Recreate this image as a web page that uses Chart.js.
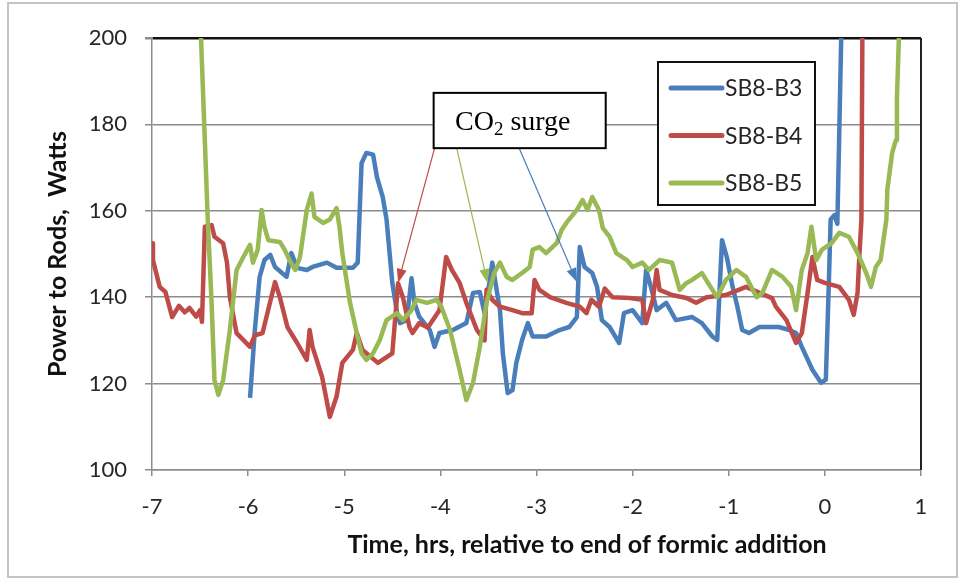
<!DOCTYPE html>
<html>
<head>
<meta charset="utf-8">
<script src="https://cdn.jsdelivr.net/npm/chart.js@4.4.0/dist/chart.umd.min.js"></script>
<style>
  html, body { margin: 0; padding: 0; background: #fff; }
</style>
</head>
<body>
<canvas id="myChart" width="961" height="579"></canvas>
<script>
const ctx = document.getElementById('myChart');

// time in hrs relative to end of formic addition, power in watts
const timeB3 = [-5.98, -5.93, -5.88, -5.83, -5.77, -5.72, -5.60, -5.55, -5.49, -5.39, -5.33, -5.18, -5.08, -4.91, -4.86, -4.82, -4.77, -4.70, -4.66, -4.60,
    -4.56, -4.50, -4.45, -4.42, -4.35, -4.30, -4.27, -4.22, -4.11, -4.06, -4.01, -3.87, -3.73, -3.66, -3.59, -3.54, -3.49, -3.46, -3.42, -3.38,
    -3.35, -3.30, -3.25, -3.21, -3.15, -3.09, -3.04, -2.90, -2.76, -2.66, -2.58, -2.55, -2.50, -2.42, -2.37, -2.32, -2.24, -2.14, -2.09, -2.00,
    -1.90, -1.86, -1.81, -1.75, -1.65, -1.55, -1.38, -1.28, -1.17, -1.12, -1.07, -1.02, -0.96, -0.91, -0.86, -0.79, -0.68, -0.48, -0.37, -0.30,
    -0.24, -0.13, -0.04, 0.01, 0.04, 0.06, 0.10, 0.13, 0.17];
const powerB3 = [116.7, 132.4, 144.7, 148.6, 149.8, 147, 144.7, 150.2, 146.8, 146.3, 147, 148, 146.8, 146.8, 148, 171, 173.4, 173, 167.8, 163.2,
    158, 143.3, 136.3, 134, 134.7, 144.4, 138.7, 135.5, 132.4, 128.5, 131.7, 132.4, 134, 141, 141.2, 136.3, 143.3, 148, 142.4, 137,
    127, 117.8, 118.5, 124.8, 130.1, 134, 130.9, 130.9, 132.4, 133.1, 135.4, 151.6, 147, 145.6, 142.4, 134.7, 133.1, 129.4, 136.3, 137,
    134, 146.3, 142.4, 137, 138.7, 134.7, 135.4, 134, 130.9, 130.1, 153.2, 149.3, 142.4, 137.8, 132.4, 131.7, 133.1, 133.1, 132.4, 131.7,
    128.5, 123.2, 120.2, 120.9, 142.4, 158, 159, 157, 200];

const timeB4 = [-7.00, -6.99, -6.92, -6.86, -6.79, -6.72, -6.66, -6.61, -6.54, -6.50, -6.48, -6.45, -6.38, -6.35, -6.26, -6.22, -6.19, -6.12, -5.98, -5.93,
    -5.85, -5.72, -5.67, -5.59, -5.49, -5.39, -5.36, -5.33, -5.23, -5.15, -5.08, -5.02, -4.91, -4.87, -4.81, -4.65, -4.50, -4.44, -4.39, -4.32,
    -4.29, -4.22, -4.13, -4.01, -3.94, -3.88, -3.80, -3.73, -3.62, -3.54, -3.52, -3.46, -3.38, -3.25, -3.15, -3.05, -3.02, -2.97, -2.86, -2.69,
    -2.55, -2.48, -2.43, -2.35, -2.29, -2.21, -2.03, -1.90, -1.86, -1.79, -1.75, -1.72, -1.59, -1.44, -1.34, -1.23, -1.03, -0.82, -0.68, -0.55,
    -0.51, -0.40, -0.30, -0.24, -0.18, -0.13, -0.08, 0.00, 0.15, 0.25, 0.30, 0.34, 0.36, 0.38, 0.39];
const powerB4 = [152.5, 148.6, 142.4, 141.2, 135.4, 138, 136.5, 137.5, 135.5, 137, 134.3, 156.3, 156.7, 154, 152.5, 148, 140, 131.7, 128.5, 131.2,
    131.7, 143.5, 140, 133, 129.4, 125.5, 132.4, 128.5, 121.5, 112.3, 117, 124.8, 127.8, 131.7, 127.8, 124.8, 127, 143.2, 140, 133,
    131.7, 134, 133, 137, 149.3, 146.3, 143.3, 138.7, 132.4, 130, 141.7, 139.4, 137.8, 137, 136.3, 136.3, 144, 141.7, 140, 138.7,
    137.8, 136.3, 139.4, 137.8, 142, 140, 139.8, 139.4, 134, 139.4, 146.3, 141.7, 140.5, 139.8, 138.7, 140, 140.5, 142.4, 141, 139.8,
    137.8, 134.7, 129.4, 131.7, 141, 149.3, 144, 143.3, 142.4, 139.4, 135.9, 141, 150.2, 157.9, 200];

const timeB5 = [-6.49, -6.42, -6.38, -6.35, -6.31, -6.26, -6.19, -6.12, -6.05, -5.98, -5.95, -5.90, -5.86, -5.83, -5.79, -5.67, -5.62, -5.57, -5.51, -5.46,
    -5.43, -5.39, -5.34, -5.31, -5.22, -5.15, -5.08, -5.05, -5.02, -4.94, -4.87, -4.82, -4.77, -4.70, -4.63, -4.56, -4.45, -4.39, -4.30, -4.25,
    -4.14, -4.04, -3.99, -3.90, -3.80, -3.73, -3.66, -3.59, -3.52, -3.44, -3.38, -3.31, -3.25, -3.15, -3.07, -3.04, -2.97, -2.90, -2.79, -2.74,
    -2.69, -2.58, -2.52, -2.47, -2.42, -2.35, -2.31, -2.24, -2.17, -2.06, -2.00, -1.90, -1.83, -1.72, -1.59, -1.51, -1.44, -1.38, -1.28, -1.17,
    -1.12, -1.03, -0.92, -0.82, -0.71, -0.65, -0.55, -0.44, -0.35, -0.30, -0.24, -0.18, -0.14, -0.09, -0.03, 0.07, 0.15, 0.25, 0.34, 0.43,
    0.48, 0.53, 0.58, 0.64, 0.65, 0.70, 0.74, 0.75, 0.77];
const powerB5 = [200, 158, 138.7, 120.8, 117.4, 120.8, 132.4, 146.3, 149.3, 152.1, 148, 151, 160.2, 156.3, 153.2, 152.8, 151, 148.6, 146.3, 149.3,
    154, 160.2, 164, 158.6, 157.2, 158, 160.6, 156.3, 150.2, 138.7, 131.7, 127, 125.5, 127, 130.1, 134.7, 136.3, 134.7, 137, 139.4,
    138.7, 139.4, 137.8, 132.4, 123.2, 116.2, 120.2, 128.5, 138.7, 145.6, 148, 144.7, 144, 145.6, 147, 151, 151.6, 150.2, 152.5, 155.5,
    157.2, 160.2, 162.5, 160.2, 163.2, 160.2, 156, 154, 150.2, 148.6, 147, 148, 146.3, 148.6, 148, 141.7, 143.3, 144, 145.6, 141.7,
    140, 144, 146.3, 144.7, 140, 141, 146.3, 144.7, 142.4, 137, 146.3, 150.2, 156.3, 148.6, 151, 152.5, 154.9, 154, 150.2, 145.6,
    142.4, 147, 148.6, 158, 165, 173.4, 176.4, 186.4, 200];

const seriesNames = ['SB8-B3', 'SB8-B4', 'SB8-B5'];
const seriesColors = ['#4A7EBB', '#BE4B48', '#98B954'];

// CO2 surge call-out: box corners and arrow tips in data units
const calloutBox = { x0: -4.07, x1: -2.28, y0: 187.3, y1: 174.5 };
const calloutArrows = [
    { from: -4.06, tipX: -4.44, tipY: 143.3 },
    { from: -3.83, tipX: -3.51, tipY: 143.3 },
    { from: -3.18, tipX: -2.58, tipY: 143.5 }
];

function pairs(xs, ys) {
    return xs.map((x, i) => ({ x: x, y: ys[i] }));
}

const seriesData = [pairs(timeB3, powerB3), pairs(timeB4, powerB4), pairs(timeB5, powerB5)];

const datasets = seriesNames.map((name, i) => ({
    label: name,
    data: seriesData[i],
    borderColor: seriesColors[i],
    backgroundColor: seriesColors[i],
    borderWidth: 4.5,
    borderJoinStyle: 'round',
    pointRadius: 0,
    tension: 0,
    order: 2 - i,
}));

const gridGray = '#8c8c8c';
const textColor = '#262626';
const baseFont = 'Lato, "Open Sans", sans-serif';

const decor = {
    id: 'decor',
    beforeDraw(chart) {
        const c = chart.ctx;
        c.save();
        c.fillStyle = '#fff';
        c.fillRect(0, 0, chart.width, chart.height);
        c.strokeStyle = '#c4c4c4';
        c.lineWidth = 2;
        c.strokeRect(8, 3, 949, 574);
        c.restore();
    },
    afterDraw(chart) {
        const c = chart.ctx;
        const a = chart.chartArea;
        const xs = chart.scales.x, ys = chart.scales.y;
        c.save();

        // right frame of plot area
        c.strokeStyle = '#222';
        c.lineWidth = 2;
        c.beginPath();
        c.moveTo(a.right, a.top);
        c.lineTo(a.right, a.bottom);
        c.stroke();

        // axis titles
        c.fillStyle = '#111';
        c.font = 'bold 25px ' + baseFont;
        c.textAlign = 'center';
        c.textBaseline = 'middle';
        c.fillText('Time, hrs, relative to end of formic addition', 587, 545);
        c.save();
        c.translate(58, 254);
        c.rotate(-Math.PI / 2);
        c.fillText('Power to Rods,  Watts', 0, 0);
        c.restore();

        // legend box
        c.fillStyle = '#fff';
        c.fillRect(658, 62, 157, 143);
        c.strokeStyle = '#111';
        c.lineWidth = 2;
        c.strokeRect(658, 62, 157, 143);
        c.font = '23px ' + baseFont;
        c.textAlign = 'left';
        c.textBaseline = 'middle';
        chart.data.datasets.forEach((ds, i) => {
            const y = 88 + i * 47.5;
            c.strokeStyle = ds.borderColor;
            c.lineWidth = 5;
            c.lineCap = 'round';
            c.beginPath();
            c.moveTo(671, y);
            c.lineTo(722, y);
            c.stroke();
            c.fillStyle = textColor;
            c.fillText(ds.label, 725, y + 1);
        });

        // CO2 surge call-out
        const bx0 = xs.getPixelForValue(calloutBox.x0), bx1 = xs.getPixelForValue(calloutBox.x1);
        const by0 = ys.getPixelForValue(calloutBox.y0), by1 = ys.getPixelForValue(calloutBox.y1);
        calloutArrows.forEach((ar, i) => {
            const x0 = xs.getPixelForValue(ar.from), y0 = by1;
            const x1 = xs.getPixelForValue(ar.tipX), y1 = ys.getPixelForValue(ar.tipY);
            const ang = Math.atan2(y1 - y0, x1 - x0);
            c.strokeStyle = seriesColors[[1, 2, 0][i]];
            c.fillStyle = c.strokeStyle;
            c.lineWidth = 1.2;
            c.lineCap = 'butt';
            c.beginPath();
            c.moveTo(x0, y0);
            c.lineTo(x1 - 10 * Math.cos(ang), y1 - 10 * Math.sin(ang));
            c.stroke();
            c.beginPath();
            c.moveTo(x1, y1);
            c.lineTo(x1 - 14 * Math.cos(ang) + 5 * Math.sin(ang), y1 - 14 * Math.sin(ang) - 5 * Math.cos(ang));
            c.lineTo(x1 - 14 * Math.cos(ang) - 5 * Math.sin(ang), y1 - 14 * Math.sin(ang) + 5 * Math.cos(ang));
            c.closePath();
            c.fill();
        });
        c.fillStyle = '#fff';
        c.fillRect(bx0, by0, bx1 - bx0, by1 - by0);
        c.strokeStyle = '#000';
        c.lineWidth = 2;
        c.strokeRect(bx0, by0, bx1 - bx0, by1 - by0);
        c.fillStyle = '#000';
        c.textAlign = 'left';
        c.textBaseline = 'alphabetic';
        c.font = '28px "Liberation Serif", serif';
        let tx = 455;
        const base = 130;
        c.fillText('CO', tx, base);
        tx += c.measureText('CO').width;
        c.font = '19px "Liberation Serif", serif';
        c.fillText('2', tx, base + 5);
        tx += c.measureText('2').width;
        c.font = '28px "Liberation Serif", serif';
        c.fillText(' surge', tx, base);

        c.restore();
    }
};

new Chart(ctx, {
    type: 'line',
    data: { datasets: datasets },
    options: {
        responsive: false,
        animation: false,
        layout: { padding: { left: 0, top: 38, right: 40, bottom: 0 } },
        plugins: {
            legend: { display: false },
            tooltip: { enabled: false }
        },
        scales: {
            x: {
                type: 'linear',
                min: -7,
                max: 1,
                ticks: {
                    stepSize: 1,
                    color: textColor,
                    font: { family: baseFont, size: 22 },
                    padding: 18,
                    maxRotation: 0
                },
                grid: {
                    drawOnChartArea: false,
                    drawTicks: true,
                    tickLength: 6,
                    color: gridGray,
                    lineWidth: 1.5
                },
                border: { display: true, color: gridGray, width: 1.5 },
                afterFit: function (scale) { scale.height = 109; }
            },
            y: {
                min: 100,
                max: 200,
                ticks: {
                    stepSize: 20,
                    color: textColor,
                    font: { family: baseFont, size: 22 },
                    padding: 18
                },
                grid: {
                    color: function (c) { return c.tick && c.tick.value === 200 ? '#111' : gridGray; },
                    lineWidth: function (c) { return c.tick && c.tick.value === 200 ? 2.5 : 1.5; },
                    tickLength: 7,
                    tickColor: gridGray
                },
                border: { display: true, color: gridGray, width: 1.5 },
                afterFit: function (scale) { scale.width = 152; }
            }
        }
    },
    plugins: [decor]
});
</script>
</body>
</html>
